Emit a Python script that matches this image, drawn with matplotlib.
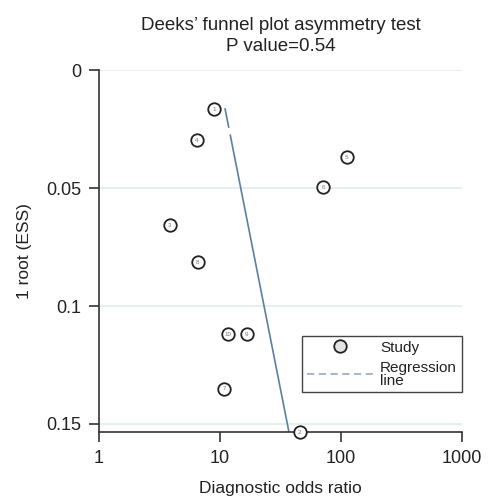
import matplotlib
matplotlib.use('Agg')
import matplotlib.pyplot as plt
from matplotlib.lines import Line2D

plt.rcParams['font.family'] = ['Liberation Sans', 'DejaVu Sans']

# study data: diagnostic odds ratio vs 1/root(ESS)
study_ids = ['1', '2', '3', '4', '5', '6', '7', '8', '9', '10']
dor = [8.9, 45.8, 3.86, 6.45, 112, 71, 10.8, 6.58, 16.7, 11.6]
inv_root_ess = [0.0165, 0.1534, 0.0657, 0.0297, 0.0369, 0.0496, 0.135, 0.0814, 0.112, 0.112]

# regression line end points
reg_x = [11.0, 37.2]
reg_y = [0.0161, 0.1534]

x_ticks = [1, 10, 100, 1000]
x_ticklabels = ['1', '10', '100', '1000']
y_ticks = [0, 0.05, 0.1, 0.15]
y_ticklabels = ['0', '0.05', '0.1', '0.15']

fig = plt.figure(figsize=(4.95, 4.98), dpi=100)
ax = fig.add_axes([0.2, 0.1325, 0.733, 0.7265])

ax.set_xscale('log')
ax.set_xlim(1, 1000)
ax.set_ylim(0.1534, 0)

for t in y_ticks:
    ax.axhline(t, color='#e2ecee', lw=1.2, zorder=0)

ax.plot(reg_x, reg_y, color='#5b7fa6', lw=1.2,
        linestyle=(0, (12, 4, 190, 4, 10, 3, 10, 3)), zorder=2)

ax.plot(dor, inv_root_ess, 'o', ms=9, mfc='white', mec='#222222', mew=1.3,
        clip_on=False, zorder=3)
for sid, x, y in zip(study_ids, dor, inv_root_ess):
    ax.text(x, y, sid, fontsize=4.5, color='#777777', ha='center', va='center',
            zorder=4, clip_on=False)

ax.spines['top'].set_visible(False)
ax.spines['right'].set_visible(False)
for s in ['left', 'bottom']:
    ax.spines[s].set_color('#333333')
    ax.spines[s].set_linewidth(1.2)

ax.set_xticks(x_ticks)
ax.set_xticklabels(x_ticklabels)
ax.xaxis.set_minor_locator(matplotlib.ticker.NullLocator())
ax.set_yticks(y_ticks)
ax.set_yticklabels(y_ticklabels)
ax.tick_params(axis='both', length=7, width=1.2, color='#333333',
               labelsize=13, labelcolor='#222222', pad=6)

ax.set_xlabel('Diagnostic odds ratio', fontsize=12.5, color='#222222', labelpad=10)
ax.set_ylabel('1 root (ESS)', fontsize=12.5, color='#222222', labelpad=10)
ax.set_title('Deeks\u2019 funnel plot asymmetry test\nP value=0.54',
             fontsize=13.5, color='#222222', pad=14, linespacing=1.3)

handles = [
    Line2D([], [], marker='o', ls='none', ms=9, mfc='#e4e4e4', mec='#222222', mew=1.3),
    Line2D([], [], color='#9bb2c9', lw=1.3, ls=(0, (4, 2.5))),
]
leg = ax.legend(handles, ['Study', 'Regression\nline'], loc='upper left',
                bbox_to_anchor=(0.56, 0.265), fontsize=11, frameon=True,
                fancybox=False, edgecolor='#444444', framealpha=1,
                handlelength=4.4, labelspacing=0.4, borderpad=0.3,
                handletextpad=0.4, borderaxespad=0.0)
leg.get_frame().set_linewidth(1.0)
for t in leg.get_texts():
    t.set_linespacing(0.9)
    t.set_color('#222222')

fig.savefig('out.png', dpi=100)
